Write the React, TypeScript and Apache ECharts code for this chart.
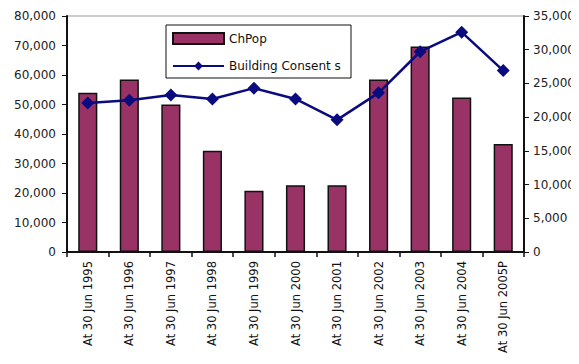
import React, { useEffect, useRef } from "react";
import * as echarts from "echarts";

const categories = [
  "At 30 Jun 1995",
  "At 30 Jun 1996",
  "At 30 Jun 1997",
  "At 30 Jun 1998",
  "At 30 Jun 1999",
  "At 30 Jun 2000",
  "At 30 Jun 2001",
  "At 30 Jun 2002",
  "At 30 Jun 2003",
  "At 30 Jun 2004",
  "At 30 Jun 2005P",
];

const chPop = [54000, 58500, 50000, 34300, 20800, 22600, 22600, 58500, 69700, 52400, 36600];

const buildingConsents = [22100, 22500, 23300, 22700, 24300, 22700, 19600, 23600, 29700, 32600, 26900];

const fmt = (v: number) => v.toLocaleString("en-US");

export default function App() {
  const ref = useRef<HTMLDivElement>(null);

  useEffect(() => {
    if (!ref.current) return;
    const chart = echarts.init(ref.current, null, { renderer: "svg" });
    const axisFont = { fontFamily: "DejaVu Sans", fontSize: 12, color: "#222" };
    chart.setOption({
      animation: false,
      backgroundColor: "#fff",
      grid: {
        left: 67,
        right: 55,
        top: 16,
        bottom: 112,
        show: true,
        borderColor: "#999",
        borderWidth: 1,
      },
      legend: {
        orient: "vertical",
        left: 172,
        top: 32,
        itemWidth: 51,
        itemHeight: 11,
        itemGap: 15,
        padding: 0,
        textStyle: { fontFamily: "DejaVu Sans", fontSize: 12, color: "#111" },
        data: [
          { name: "ChPop", icon: "rect" },
          { name: "Building Consent s" },
        ],
      },
      graphic: [
        {
          type: "rect",
          shape: { x: 166, y: 25, width: 185, height: 53 },
          style: { fill: "none", stroke: "#111", lineWidth: 1 },
          z: 10,
        },
      ],
      xAxis: {
        type: "category",
        data: categories,
        axisLine: { lineStyle: { color: "#111", width: 2 } },
        axisTick: { show: true, length: 5, lineStyle: { color: "#111", width: 1.5 } },
        axisLabel: {
          rotate: 90,
          interval: 0,
          margin: 9,
          fontFamily: "DejaVu Sans",
          fontSize: 11.5,
          color: "#111",
        },
      },
      yAxis: [
        {
          type: "value",
          min: 0,
          max: 80000,
          interval: 10000,
          splitLine: { show: false },
          axisLine: { show: true, lineStyle: { color: "#111", width: 2 } },
          axisTick: { show: true, length: 5, lineStyle: { color: "#111" } },
          axisLabel: { ...axisFont, margin: 11, formatter: fmt },
        },
        {
          type: "value",
          min: 0,
          max: 35000,
          interval: 5000,
          position: "right",
          splitLine: { show: false },
          axisLine: { show: true, lineStyle: { color: "#111", width: 2 } },
          axisTick: { show: true, length: 5, lineStyle: { color: "#111" } },
          axisLabel: { ...axisFont, margin: 9, formatter: fmt },
        },
      ],
      series: [
        {
          name: "ChPop",
          type: "bar",
          data: chPop,
          yAxisIndex: 0,
          barCategoryGap: "54%",
          itemStyle: { color: "#993366", borderColor: "#111", borderWidth: 1.5 },
        },
        {
          name: "Building Consent s",
          type: "line",
          data: buildingConsents,
          yAxisIndex: 1,
          symbol: "diamond",
          symbolSize: 13,
          lineStyle: { color: "#0b0b80", width: 2.5 },
          itemStyle: { color: "#0b0b80" },
        },
      ],
    });
    return () => chart.dispose();
  }, []);

  return <div ref={ref} style={{ width: 579, height: 364, margin: -8 }} />;
}
